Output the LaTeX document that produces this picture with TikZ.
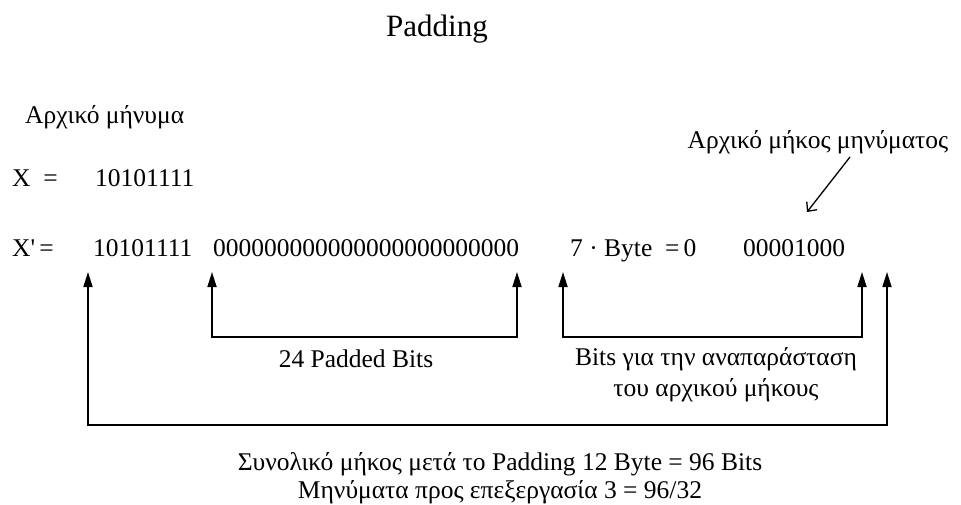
\documentclass[tikz,border=0pt]{standalone}
\usepackage{fontspec}
\setmainfont{Liberation Serif}
\usetikzlibrary{arrows.meta,calc}

\begin{document}
\begin{tikzpicture}[x=1pt,y=-1pt,
  every node/.style={font=\fontsize{25.5}{30}\selectfont,inner sep=0pt},
  txt/.style={anchor=base west},
  mid/.style={anchor=base},
  title/.style={anchor=base,font=\fontsize{31}{37}\selectfont},
  brk/.style={{Triangle[length=15pt,width=9pt]}-{Triangle[length=15pt,width=9pt]},line width=1.7pt},
  ptr/.style={-{Straight Barb[length=7pt,width=13pt]},line width=1.3pt}
]
\useasboundingbox (0,0) rectangle (961,505);

\node[title] (head) at (437,37) {Padding};

\node[txt] (orig) at (25,124) {Αρχικό μήνυμα};
\node[mid] (origlen) at (818,149) {Αρχικό μήκος μηνύματος};

\node[txt] (xeq) at (12,187) {X\enspace=};
\node[txt] (xbits) at (95,187) {10101111};

\node[txt] (xpeq) at (12,256) {X\textquotesingle\,=};
\node[txt] (xpbits) at (93,256) {10101111};
\node[txt] (zeros) at (213,256) {000000000000000000000000};
\node[txt] (bytes) at (570,256) {7 · Byte\enspace=\,0};
\node[txt] (lenbits) at (743,256) {00001000};

% arrow tips under the bit string
\coordinate (msgL) at (88,272);
\coordinate (padL) at (212,272);
\coordinate (padR) at (517,272);
\coordinate (lenL) at (563,272);
\coordinate (lenR) at (862,272);
\coordinate (totR) at (887,272);
\coordinate (ptrA) at (850,157);
\coordinate (ptrB) at (807,212);

\draw[brk] (padL) -- (padL |- 0,337) -- (padR |- 0,337) -- (padR);
\draw[brk] (lenL) -- (lenL |- 0,337) -- (lenR |- 0,337) -- (lenR);
\draw[brk] (msgL) -- (msgL |- 0,425) -- (totR |- 0,425) -- (totR);
\draw[ptr] (ptrA) -- (ptrB);

\node[mid] (padtxt) at (356,367) {24 Padded Bits};
\node[mid] (lentxt) at (716,365) {Bits για την αναπαράσταση};
\node[mid] (lentxt2) at (716,396) {του αρχικού μήκους};

\node[mid] (total) at (500,470) {Συνολικό μήκος μετά το Padding 12 Byte = 96 Bits};
\node[mid] (blocks) at (500,498) {Μηνύματα προς επεξεργασία 3 = 96/32};
\end{tikzpicture}
\end{document}
